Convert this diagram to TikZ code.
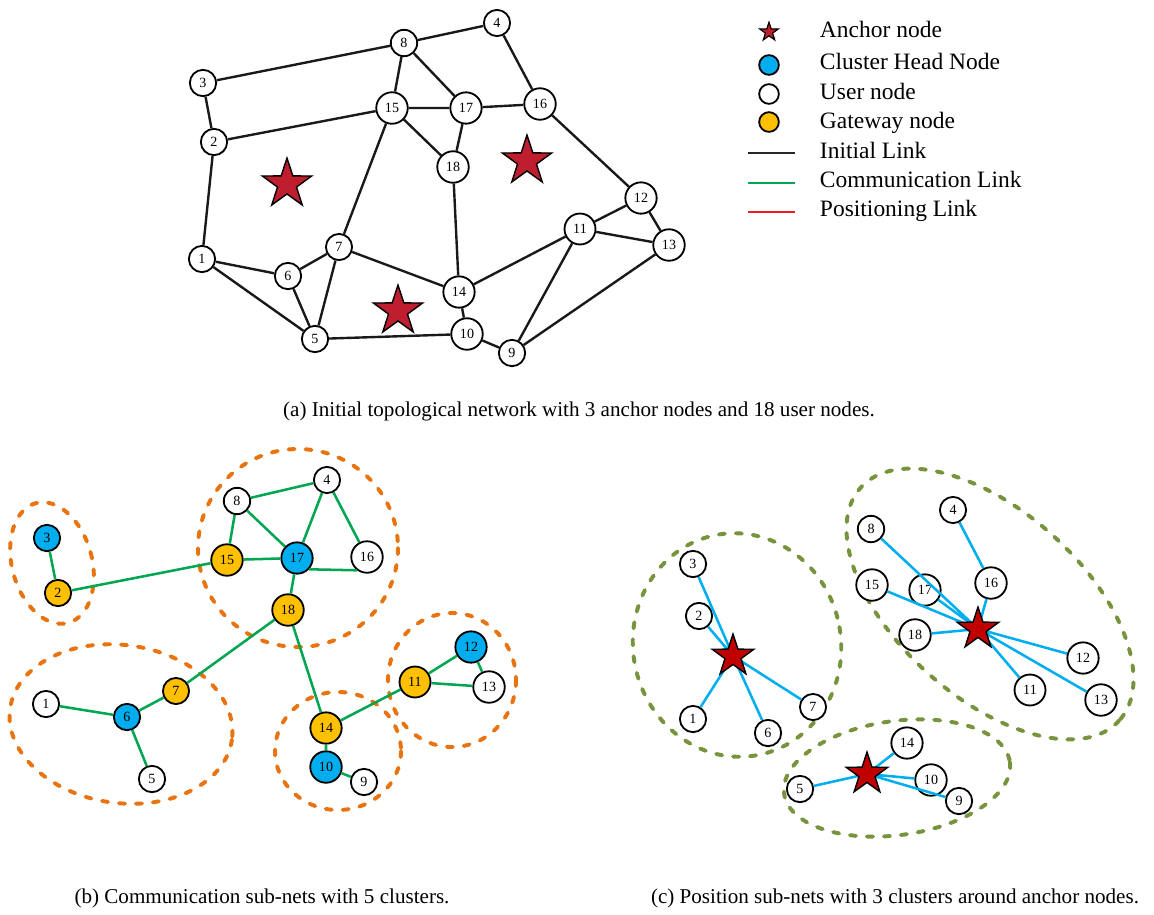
\documentclass[tikz,border=0pt]{standalone}
\usepackage{fontspec}
\setmainfont{Liberation Serif}
\usetikzlibrary{shapes.geometric}
\definecolor{ancred}{RGB}{190,30,45}
\definecolor{ancdark}{RGB}{192,0,0}
\definecolor{chblue}{RGB}{0,174,239}
\definecolor{gwyellow}{RGB}{255,192,0}
\definecolor{comgreen}{RGB}{0,166,81}
\definecolor{posred}{RGB}{237,28,36}
\definecolor{clorange}{RGB}{232,115,15}
\definecolor{clolive}{RGB}{119,147,60}
\begin{document}
\begin{tikzpicture}[x=0.025cm,y=-0.025cm,
    usr/.style={circle,draw,line width=1.3pt,fill=white,inner sep=3.7pt,font=\fontsize{10}{10}\selectfont},
    ch/.style={usr,fill=chblue},
    gw/.style={usr,fill=gwyellow},
    anc/.style={star,star points=5,star point ratio=2.6,draw,line width=1pt,fill=ancred,inner sep=0pt,minimum size=36.9pt},
    anc2/.style={anc,fill=ancdark,minimum size=31.2pt},
    ilink/.style={line width=1.7pt,black!90},
    clink/.style={comgreen,line width=1.8pt},
    plink/.style={chblue,line width=1.8pt},
    ccl/.style={clorange,line width=2.8pt,dash pattern=on 4.3pt off 7.8pt,line cap=round},
    pcl/.style={clolive,line width=2.8pt,dash pattern=on 4.3pt off 7.8pt,line cap=round},
    lgd/.style={anchor=base west,font=\fontsize{16.7}{20}\selectfont},
    captxt/.style={anchor=base,font=\fontsize{15}{18}\selectfont}]
  \useasboundingbox (0,0) rectangle (1154,914);
  % (a) initial network
  \node[usr] (a1) at (202,259) {1};
  \node[usr] (a2) at (214,142) {2};
  \node[usr] (a3) at (203,83) {3};
  \node[usr] (a4) at (497,23) {4};
  \node[usr] (a5) at (315,339) {5};
  \node[usr] (a6) at (288,276) {6};
  \node[usr] (a7) at (339,247) {7};
  \node[usr] (a8) at (404,43) {8};
  \node[usr] (a9) at (512,353) {9};
  \node[usr] (a10) at (467,334) {10};
  \node[usr] (a11) at (580,229) {11};
  \node[usr] (a12) at (641,198) {12};
  \node[usr] (a13) at (669,245) {13};
  \node[usr] (a14) at (459,292) {14};
  \node[usr] (a15) at (392,108) {15};
  \node[usr] (a16) at (540,104) {16};
  \node[usr] (a17) at (466,108) {17};
  \node[usr] (a18) at (453,167) {18};
  \draw[ilink] (a3)--(a8) (a3)--(a2) (a2)--(a15) (a2)--(a1) (a8)--(a4)
    (a8)--(a15) (a8)--(a17) (a15)--(a17) (a15)--(a18) (a17)--(a18)
    (a17)--(a16) (a4)--(a16) (a16)--(a12) (a18)--(a14) (a15)--(a7)
    (a1)--(a6) (a1)--(a5) (a6)--(a7) (a6)--(a5) (a7)--(a5) (a7)--(a14)
    (a14)--(a11) (a14)--(a10) (a5)--(a10) (a10)--(a9) (a11)--(a12)
    (a11)--(a13) (a11)--(a9) (a12)--(a13) (a9)--(a13);
  \node[anc] (sa1) at (287,184) {};
  \node[anc] (sa2) at (527,161) {};
  \node[anc] (sa3) at (398,311) {};
  % legend
  \node[anc,minimum size=14pt,line width=0.8pt] (lg1) at (769,32) {};
  \node[circle,draw,line width=1.3pt,fill=chblue,minimum size=14pt,inner sep=0pt] (lg2) at (769,65) {};
  \node[circle,draw,line width=1.3pt,fill=white,minimum size=14pt,inner sep=0pt] (lg3) at (769,94) {};
  \node[circle,draw,line width=1.3pt,fill=gwyellow,minimum size=14pt,inner sep=0pt] (lg4) at (769,122) {};
  \draw[line width=2pt,black!85] (748,153) -- (795,153);
  \draw[line width=2pt,comgreen] (748,183) -- (795,183);
  \draw[line width=2pt,posred] (748,212) -- (795,212);
  \node[lgd] (t1) at (815,37) {Anchor node};
  \node[lgd] (t2) at (815,69) {Cluster Head Node};
  \node[lgd] (t3) at (815,99) {User node};
  \node[lgd] (t4) at (815,128) {Gateway node};
  \node[lgd] (t5) at (815,158) {Initial Link};
  \node[lgd] (t6) at (815,187) {Communication Link};
  \node[lgd] (t7) at (815,216) {Positioning Link};
  \node[captxt] (capa) at (579,416) {(a) Initial topological network with 3 anchor nodes and 18 user nodes.};
  % (b) communication sub-nets
  \draw[ccl,rotate around={15:(52,563)}] (52,563) ellipse (40 and 62);
  \draw[ccl] (298,548) ellipse (100 and 99);
  \draw[ccl,rotate around={-8:(121,724)}] (121,724) ellipse (112 and 79);
  \draw[ccl] (338,751) ellipse (63 and 59);
  \draw[ccl] (452,680) ellipse (64 and 67);
  \node[usr] (b1) at (46,704) {1};
  \node[gw] (b2) at (58,593) {2};
  \node[ch] (b3) at (47,538) {3};
  \node[usr] (b4) at (327,480) {4};
  \node[usr] (b5) at (152,779) {5};
  \node[ch] (b6) at (127,717) {6};
  \node[gw] (b7) at (176,691) {7};
  \node[usr] (b8) at (237,501) {8};
  \node[usr] (b9) at (364,782) {9};
  \node[ch] (b10) at (326,767) {10};
  \node[gw] (b11) at (415,682) {11};
  \node[ch] (b12) at (471,647) {12};
  \node[usr] (b13) at (489,687) {13};
  \node[gw] (b14) at (326,728) {14};
  \node[gw] (b15) at (227,560) {15};
  \node[usr] (b16) at (367,557) {16};
  \node[ch] (b17) at (297,558) {17};
  \node[gw] (b18) at (288,610) {18};
  \draw[clink] (b3)--(b2) (b2)--(b15) (b15)--(b8) (b8)--(b4) (b8)--(b17)
    (b15)--(b17) (b4)--(b17) (b4)--(b16) (b17.-43)--(b16.-127) (b17)--(b18)
    (b18)--(b7) (b18)--(b14) (b1)--(b6) (b6)--(b7) (b6)--(b5) (b14)--(b10)
    (b10)--(b9) (b14)--(b11) (b11)--(b12) (b11)--(b13) (b12)--(b13);
  \node[captxt] (capb) at (262,903) {(b) Communication sub-nets with 5 clusters.};
  % (c) position sub-nets
  \draw[pcl,rotate around={10:(737,645)}] (737,645) ellipse (104 and 112);
  \draw[pcl,rotate around={-42:(990,604)}] (990,604) ellipse (174 and 93);
  \draw[pcl,rotate around={8:(897,778)}] (897,778) ellipse (114 and 57);
  \node[usr] (c1) at (693,719) {1};
  \node[usr] (c2) at (699,616) {2};
  \node[usr] (c3) at (693,564) {3};
  \node[usr] (c4) at (953,510) {4};
  \node[usr] (c5) at (800,789) {5};
  \node[usr] (c6) at (768,733) {6};
  \node[usr] (c7) at (813,707) {7};
  \node[usr] (c8) at (871,529) {8};
  \node[usr] (c9) at (959,801) {9};
  \node[usr] (c10) at (931,780) {10};
  \node[usr] (c11) at (1030,690) {11};
  \node[usr] (c12) at (1083,658) {12};
  \node[usr] (c13) at (1101,700) {13};
  \node[usr] (c14) at (907,743) {14};
  \node[usr] (c15) at (872,585) {15};
  \node[usr] (c16) at (991,583) {16};
  \node[usr] (c17) at (925,590) {17};
  \node[usr] (c18) at (915,635) {18};
  \coordinate (p1) at (733,656);
  \coordinate (p2) at (978,629);
  \coordinate (p3) at (867,774);
  \draw[plink] (c3)--(p1) (c2)--(p1) (c1)--(p1) (c6)--(p1) (c7)--(p1)
    (c8)--(p2) (c15)--(p2) (c17)--(p2) (c18)--(p2) (c4)--(c16) (c16)--(p2)
    (c12)--(p2) (c11)--(p2) (c13)--(p2)
    (c14)--(p3) (c5)--(p3) (c10)--(p3) (c9)--(p3);
  \node[anc2] (sc1) at (p1) {};
  \node[anc2] (sc2) at (p2) {};
  \node[anc2] (sc3) at (p3) {};
  \node[captxt] (capc) at (895,903) {(c) Position sub-nets with 3 clusters around anchor nodes.};
\end{tikzpicture}
\end{document}
